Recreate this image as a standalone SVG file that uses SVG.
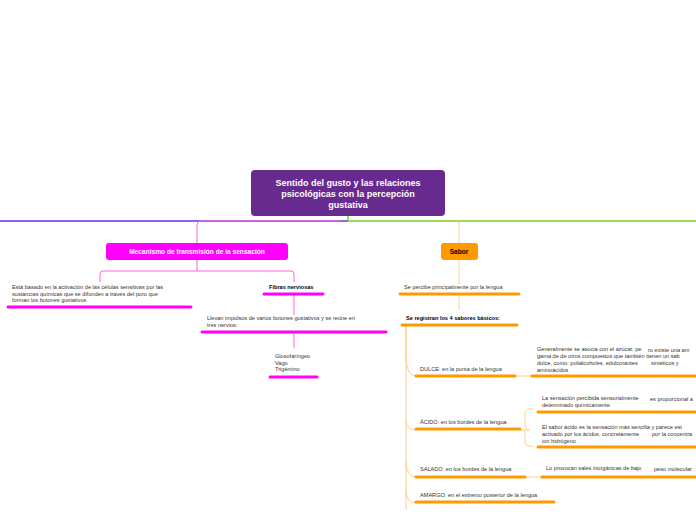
<svg xmlns="http://www.w3.org/2000/svg" width="696" height="520" viewBox="0 0 696 520">
<style>
text{font-family:"Liberation Sans",Arial,sans-serif;font-size:5.6px;fill:#333}
.b{font-weight:bold;fill:#000}
.m{stroke:#f0f;stroke-width:3;stroke-linecap:round}
.o{stroke:#f90;stroke-width:3;stroke-linecap:round}
.lm{stroke:#f6c;fill:none;stroke-width:1}
.lo{stroke:#fc8;fill:none;stroke-width:1}
</style>
<rect width="696" height="520" fill="#fff"/>
<g id="connectors">
<line x1="0" y1="221" x2="348" y2="221" stroke="#6a2be0" stroke-width="1.5"/>
<line x1="348" y1="221" x2="696" y2="221" stroke="#7ad126" stroke-width="1.5"/>
<line x1="348" y1="216" x2="348" y2="221" stroke="#7ad126" stroke-width="1.5"/>
<path class="lm" d="M197 243V225q0-4 4-4h140"/>
<path class="lm" d="M100 282v-8q0-3 3-3h188q3 0 3 3v8M197 260v11"/>
<path class="lm" d="M294 295v20M294 333v15"/>
<path class="lo" d="M459 221v22M459 260v24M459 295v15"/>
<path class="lo" d="M406 326V510M406 326v30q0 20 10 20M406 420q0 10 10 10M406 460q0 17 10 17M406 490q0 13 10 13"/>
<path class="lo" d="M516 376h16M521 430h8q-4 0-4-6v-10q0-5 5-5h3M525 430v10q0 6 5 6h3M525 477h18"/>
</g>
<g id="main"><rect x="251" y="170" width="194" height="46" rx="4" fill="#672a8e"/>
<text x="348" y="186" text-anchor="middle" style="font-size:9px;font-weight:bold;fill:#fff">Sentido del gusto y las relaciones</text>
<text x="348" y="197" text-anchor="middle" style="font-size:9px;font-weight:bold;fill:#fff">psicológicas con la percepción</text>
<text x="348" y="208" text-anchor="middle" style="font-size:9px;font-weight:bold;fill:#fff">gustativa</text></g>
<g id="mecanismo"><rect x="106" y="243" width="182" height="17" rx="3" fill="#f0f"/>
<text x="197" y="254" text-anchor="middle" style="font-size:6.6px;font-weight:bold;fill:#fff">Mecanismo de transmisión de la sensación</text></g>
<g id="basado"><text x="12" y="289">Está basado en la activación de las células sensitivas por las</text><text x="12" y="296">sustancias químicas que se difunden a través del poro que</text><text x="12" y="302">forman los botones gustativos</text><line class="m" x1="8" y1="307" x2="191" y2="307"/></g>
<g id="fibras"><text class="b" x="269" y="289">Fibras nerviosas</text><line class="m" x1="264" y1="294" x2="323" y2="294"/></g>
<g id="llevan"><text x="207" y="320">Llevan impulsos de varios botones gustativos y se reúne en</text><text x="207" y="327">tres nervios:</text><line class="m" x1="202" y1="332" x2="386" y2="332"/></g>
<g id="nervios"><text x="275" y="358">Glosofaríngeo</text><text x="275" y="365">Vago</text><text x="275" y="371">Trigémino</text><line class="m" x1="270" y1="377" x2="317" y2="377"/></g>
<g id="sabor"><rect x="441" y="243" width="37" height="17" rx="3" fill="#f90"/><text class="b" x="459" y="254" text-anchor="middle" style="font-size:6.6px">Sabor</text></g>
<g id="percibe"><text x="404" y="289">Se percibe principalmente por la lengua</text><line class="o" x1="400" y1="294" x2="519" y2="294"/></g>
<g id="registran"><text class="b" x="406" y="320">Se registran los 4 sabores básicos:</text><line class="o" x1="402" y1="325" x2="517" y2="325"/></g>
<g id="dulce"><text x="420" y="371">DULCE: en la punta de la lengua</text><line class="o" x1="416" y1="376" x2="515" y2="376"/></g>
<g id="dulce-d"><text x="537" y="351">Generalmente se asocia con el azúcar, pe</text><text x="537" y="358">gama de de otros compuestos que también tienen un sab</text><text x="537" y="365">dulce, como: polialcoholes, edulcorantes</text><text x="537" y="372">aminoácidos</text><text x="648" y="352">ro existe una am</text><text x="651" y="365">sintéticos y</text><line class="o" x1="532" y1="376" x2="696" y2="376"/></g>
<g id="acido"><text x="420" y="424">ÁCIDO: en los bordes de la lengua</text><line class="o" x1="416" y1="429" x2="520" y2="429"/></g>
<g id="acido-1"><text x="542" y="400">La sensación percibida sensorialmente</text><text x="542" y="407">determinado químicamente</text><text x="650" y="401">es proporcional a</text><line class="o" x1="538" y1="412" x2="696" y2="412"/></g>
<g id="acido-2"><text x="542" y="429">El sabor ácido es la sensación más sencilla y parece est</text><text x="542" y="436">activado por los ácidos, concretamente</text><text x="542" y="443">ion hidrógeno</text><text x="652" y="436">por la concentra</text><line class="o" x1="538" y1="447" x2="696" y2="447"/></g>
<g id="salado"><text x="420" y="471">SALADO: en los bordes de la lengua</text><line class="o" x1="416" y1="477" x2="525" y2="477"/></g>
<g id="salado-d"><text x="546" y="470">Lo provocan sales inorgánicas de bajo</text><text x="654" y="471">peso molecular</text><line class="o" x1="542" y1="477" x2="696" y2="477"/></g>
<g id="amargo"><text x="420" y="497">AMARGO: en el extremo posterior de la lengua</text><line class="o" x1="416" y1="502" x2="554" y2="502"/></g>
</svg>
